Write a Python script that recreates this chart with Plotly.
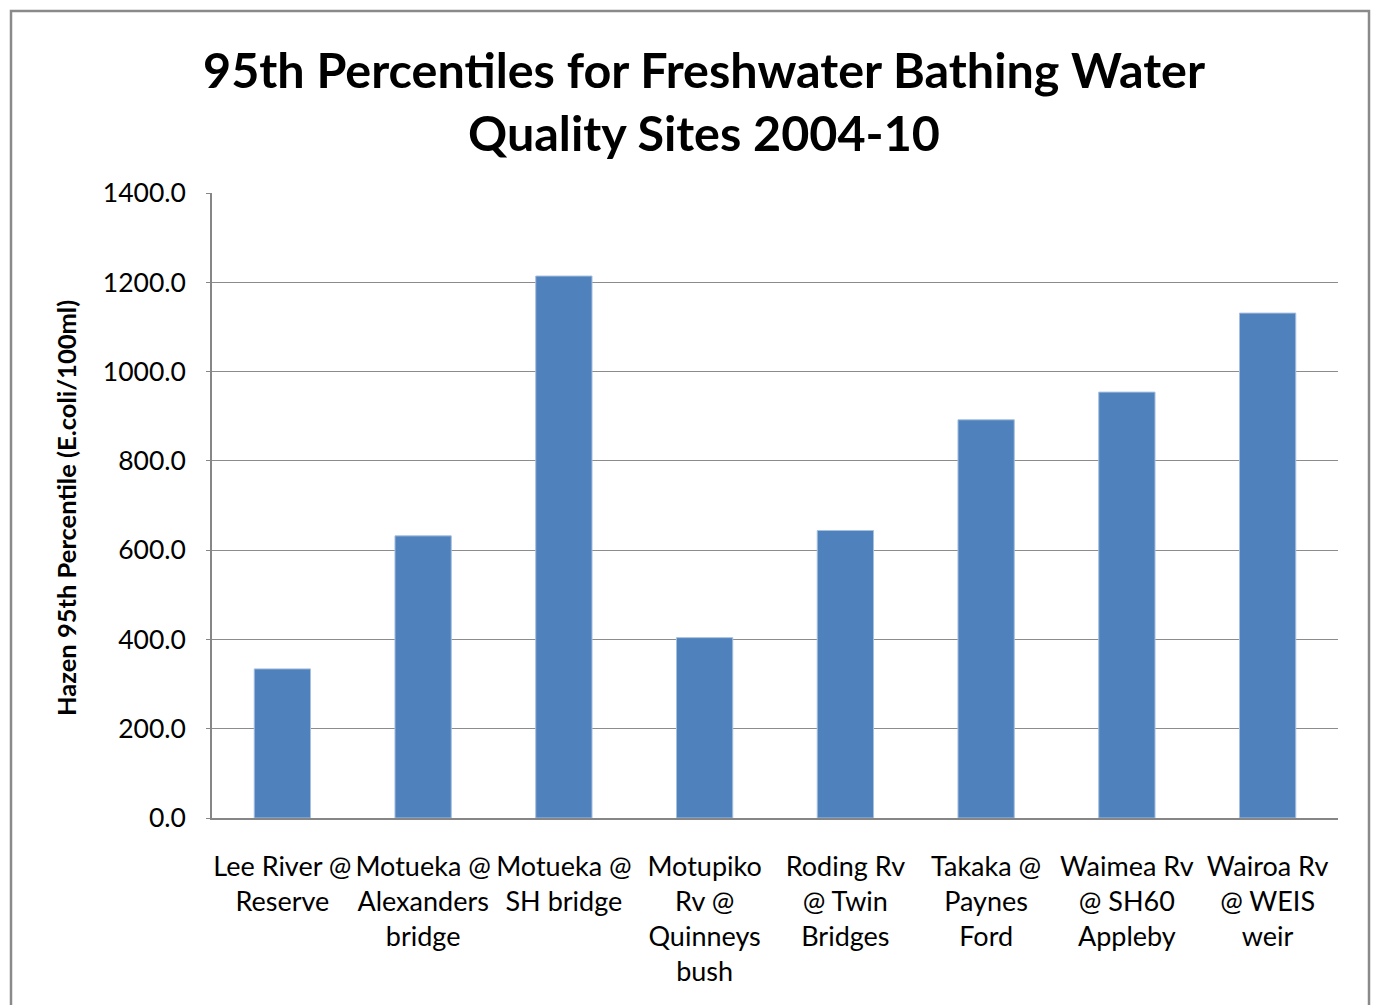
import plotly.graph_objects as go

sites = [
    "Lee River @<br>Reserve",
    "Motueka @<br>Alexanders<br>bridge",
    "Motueka @<br>SH bridge",
    "Motupiko<br>Rv @<br>Quinneys<br>bush",
    "Roding Rv<br>@ Twin<br>Bridges",
    "Takaka @<br>Paynes<br>Ford",
    "Waimea Rv<br>@ SH60<br>Appleby",
    "Wairoa Rv<br>@ WEIS<br>weir",
]
percentile95 = [334, 632, 1214, 404, 644, 892, 954, 1131]
y_ticks = [0, 200, 400, 600, 800, 1000, 1200, 1400]

W, H = 1373, 1005
L, R, T, B = 212, 35, 193, 187
pw, ph = W - L - R, H - T - B

def px(x):
    return (x - L) / pw

def py(y):
    return (H - B - y) / ph

FONT = "Lato"

fig = go.Figure()
fig.add_trace(go.Bar(
    x=sites, y=percentile95, width=0.4,
    marker=dict(color="#4F81BD", line=dict(color="#A7C0DE", width=1)),
))

fig.update_layout(
    width=W, height=H,
    margin=dict(l=L, r=R, t=T, b=B),
    paper_bgcolor="white", plot_bgcolor="white",
    showlegend=False,
    font=dict(family=FONT, color="#000000"),
    xaxis=dict(
        showgrid=False, showline=True, linecolor="#868686", linewidth=1.5,
        ticks="", tickfont=dict(family=FONT, size=27, color="#000000"),
        ticklabelstandoff=24,
    ),
    yaxis=dict(
        range=[0, 1400], tickvals=y_ticks, tickformat=".1f",
        showgrid=True, gridcolor="#8C8C8C", gridwidth=1.2,
        showline=True, linecolor="#868686", linewidth=1.5,
        ticks="outside", ticklen=4, tickcolor="#868686",
        tickfont=dict(family=FONT, size=26.5, color="#000000"),
        ticklabelstandoff=15, zeroline=False,
    ),
    shapes=[dict(
        type="rect", xref="paper", yref="paper",
        x0=px(11), x1=px(1369), y0=py(1015), y1=py(11),
        line=dict(color="#8A8A8A", width=2.5), fillcolor="rgba(0,0,0,0)",
        layer="below",
    )],
    annotations=[
        dict(
            text="<b>95th Percentiles for Freshwater Bathing Water<br>Quality Sites 2004-10</b>",
            xref="paper", yref="paper", x=px(704), y=py(38),
            xanchor="center", yanchor="top", showarrow=False,
            font=dict(family=FONT, size=48.5, color="#000000"),
        ),
        dict(
            text="<b>Hazen 95th Percentile (E.coli/100ml)</b>",
            xref="paper", yref="paper", x=px(66), y=py(508),
            xanchor="center", yanchor="middle",
            textangle=-90, showarrow=False,
            font=dict(family=FONT, size=25.5, color="#000000"),
        ),
    ],
)

fig.write_html(
    "out.html",
    config={"displayModeBar": False},
    post_script="document.body.style.margin='0';document.body.style.overflow='hidden';",
)
